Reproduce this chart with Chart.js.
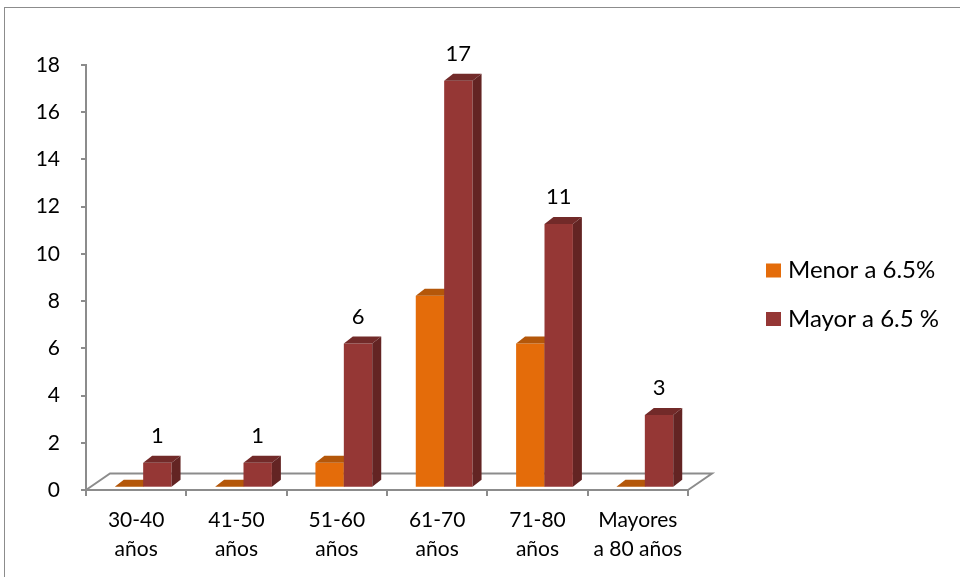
<!DOCTYPE html>
<html>
<head>
<meta charset="utf-8">
<script src="https://cdn.jsdelivr.net/npm/chart.js@4.4.0/dist/chart.umd.min.js"></script>
<style>
  html, body { margin: 0; padding: 0; background: #fff; width: 960px; height: 577px; overflow: hidden; }
  #frame { position: absolute; left: 4px; top: 7px; width: 1000px; height: 1000px; border: 1px solid #8c8c8c; box-sizing: border-box; }
  #c { position: absolute; left: 0; top: 0; }
</style>
</head>
<body>
<div id="frame"></div>
<canvas id="c" width="960" height="577"></canvas>
<script>
// Age groups (two-line labels) and counts per HbA1c group
const categories = [
  ['30-40', 'años'],
  ['41-50', 'años'],
  ['51-60', 'años'],
  ['61-70', 'años'],
  ['71-80', 'años'],
  ['Mayores', 'a 80 años']
];
const menorValues = [0, 0, 1, 8, 6, 0];
const mayorValues = [1, 1, 6, 17, 11, 3];
const yTicks = [0, 2, 4, 6, 8, 10, 12, 14, 16, 18];
const seriesNames = ['Menor a 6.5%', 'Mayor a 6.5 %'];

// Face colours for the pseudo-3D columns: front, top, side
const faces = [
  { front: '#e46c0a', top: '#b4570a', side: '#9a4a08' },
  { front: '#953735', top: '#722a29', side: '#632423' }
];

const FONT = 'Lato, "Open Sans", sans-serif';
const DEPTH_X = 9, DEPTH_Y = 7;      // column depth
const SHIFT_X = 7;                   // columns sit a little behind the front edge
const FLOOR_DX = 24, FLOOR_DY = 16.5; // floor depth
const GRAY = '#8c8c8c';

function drawFloor(chart) {
  const { ctx, chartArea: a } = chart;
  ctx.save();
  ctx.strokeStyle = GRAY;
  ctx.lineWidth = 2;
  ctx.beginPath();
  ctx.moveTo(a.left, a.bottom);
  ctx.lineTo(a.left + FLOOR_DX, a.bottom - FLOOR_DY);
  ctx.lineTo(a.right + FLOOR_DX, a.bottom - FLOOR_DY);
  ctx.lineTo(a.right, a.bottom);
  ctx.stroke();
  ctx.restore();
}

function drawColumn(ctx, bar, f) {
  const { x, y, base, width } = bar.getProps(['x', 'y', 'base', 'width'], true);
  const l = x - width / 2, r = x + width / 2;
  bar.draw(ctx);
  ctx.fillStyle = f.top;
  ctx.beginPath();
  ctx.moveTo(l, y);
  ctx.lineTo(l + DEPTH_X, y - DEPTH_Y);
  ctx.lineTo(r + DEPTH_X, y - DEPTH_Y);
  ctx.lineTo(r, y);
  ctx.closePath();
  ctx.fill();
  ctx.fillStyle = f.side;
  ctx.beginPath();
  ctx.moveTo(r, y);
  ctx.lineTo(r + DEPTH_X, y - DEPTH_Y);
  ctx.lineTo(r + DEPTH_X, base - DEPTH_Y);
  ctx.lineTo(r, base);
  ctx.closePath();
  ctx.fill();
}

const columns3d = {
  id: 'columns3d',
  beforeDatasetsDraw(chart) {
    drawFloor(chart);
    const ctx = chart.ctx;
    ctx.save();
    ctx.translate(SHIFT_X, 0);
    // draw columns back-to-front, left series first in every group
    const metas = [chart.getDatasetMeta(0), chart.getDatasetMeta(1)];
    categories.forEach((_, i) => {
      metas.forEach((m, d) => drawColumn(ctx, m.data[i], faces[d]));
    });
    ctx.restore();
    return false;
  },
  afterDraw(chart) {
    const ctx = chart.ctx;
    // value labels over the "Mayor" columns
    const meta = chart.getDatasetMeta(1);
    ctx.save();
    ctx.font = '22px ' + FONT;
    ctx.fillStyle = '#000';
    ctx.textAlign = 'center';
    ctx.textBaseline = 'middle';
    meta.data.forEach((bar, i) => {
      const { x, y } = bar.getProps(['x', 'y'], true);
      ctx.fillText(String(mayorValues[i]), x + SHIFT_X, y - 27);
    });
    // legend
    ctx.font = '24px ' + FONT;
    ctx.textAlign = 'left';
    const rows = [270.5, 319];
    seriesNames.forEach((name, i) => {
      ctx.fillStyle = faces[i].front;
      ctx.fillRect(766, rows[i] - 7, 15, 14);
      ctx.fillStyle = '#000';
      ctx.fillText(name, 788, rows[i]);
    });
    ctx.restore();
  }
};

new Chart(document.getElementById('c'), {
  type: 'bar',
  data: {
    labels: categories,
    datasets: [
      {
        label: seriesNames[0],
        data: menorValues,
        backgroundColor: faces[0].front,
        borderWidth: 0,
        barPercentage: 1,
        categoryPercentage: 0.566,
        yAxisID: 'yb'
      },
      {
        label: seriesNames[1],
        data: mayorValues,
        backgroundColor: faces[1].front,
        borderWidth: 0,
        barPercentage: 1,
        categoryPercentage: 0.566,
        yAxisID: 'yb'
      }
    ]
  },
  options: {
    responsive: false,
    animation: false,
    devicePixelRatio: 1,
    layout: { padding: { left: 0, right: 272, top: 65, bottom: 0 } },
    plugins: { legend: { display: false }, tooltip: { enabled: false } },
    scales: {
      x: {
        offset: true,
        grid: { offset: true, drawOnChartArea: false, tickLength: 6, color: GRAY, lineWidth: 2 },
        border: { display: true, color: GRAY, width: 2 },
        ticks: { font: { family: FONT, size: 21, lineHeight: 1.42 }, color: '#000', padding: 9, maxRotation: 0, autoSkip: false },
        afterFit(s) { s.height = 87; }
      },
      y: {
        position: 'left',
        min: 0,
        max: 18,
        afterBuildTicks(s) { s.ticks = yTicks.map(v => ({ value: v })); },
        grid: { drawOnChartArea: false, tickLength: 5, color: GRAY, lineWidth: 2 },
        border: { display: true, color: GRAY, width: 2 },
        ticks: { font: { family: FONT, size: 21 }, color: '#000', padding: 21 },
        afterFit(s) { s.width = 86; }
      },
      yb: {
        display: false,
        min: -0.138,
        max: 17.66
      }
    }
  },
  plugins: [columns3d]
});
</script>
</body>
</html>
